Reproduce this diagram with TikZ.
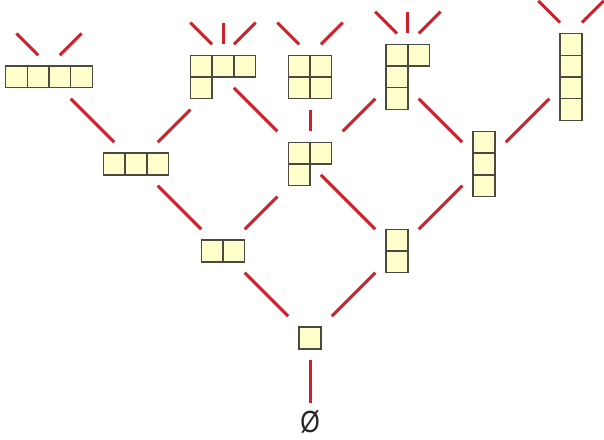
\documentclass[tikz,border=0pt]{standalone}
\usepackage{graphicx}
\usepackage{fontspec}
\newfontfamily\symfont{Liberation Sans}
\definecolor{cellfill}{HTML}{FFFFCC}
\definecolor{celldraw}{HTML}{4A4A40}
\definecolor{edgered}{HTML}{D0202A}
\def\u{0.3cm}
\tikzset{
  ybox/.style={rectangle, draw=none, inner sep=0pt, outer sep=0pt},
  cell/.style={fill=cellfill, draw=celldraw, line width=1pt},
  edge/.style={draw=edgered, line width=2.35pt},
  emptyset/.style={inner sep=0pt, text=black!85, font=\symfont\fontsize{24}{24}\selectfont}
}
\newcommand\yd[5]{%
  \node[ybox, minimum width={#3*\u}, minimum height={#4*\u}] (#1) at (#2) {};
  \foreach \c/\r in {#5} \draw[cell] ([shift={(2*\c,-2*\r)}]#1.north west) rectangle ++(2,-2);
}
\begin{document}
\begin{tikzpicture}[x=\u, y=\u]
\useasboundingbox (-28.506,-9.379) rectangle (27.034,31.080);
% rank 4
\yd{n4}{-24,24}{8}{2}{0/0,1/0,2/0,3/0}
\yd{n31}{-8,24}{6}{4}{0/0,1/0,2/0,0/1}
\yd{n22}{0,24}{4}{4}{0/0,1/0,0/1,1/1}
\yd{n211}{9,24}{4}{6}{0/0,1/0,0/1,0/2}
\yd{n1111}{24,24}{2}{8}{0/0,0/1,0/2,0/3}
% rank 3
\yd{n3}{-16,16}{6}{2}{0/0,1/0,2/0}
\yd{n21}{0,16}{4}{4}{0/0,1/0,0/1}
\yd{n111}{16,16}{2}{6}{0/0,0/1,0/2}
% rank 2
\yd{n2}{-8,8}{4}{2}{0/0,1/0}
\yd{n11}{8,8}{2}{4}{0/0,0/1}
% rank 1
\yd{n1}{0,0}{2}{2}{0/0}
% rank 0
\node[emptyset] (n0) at (0,-7.75) {\scalebox{0.82}[1]{Ø}};
% edges
\draw[edge] ([shift={(2,-2)}]n4.center) -- ([shift={(-2,2)}]n3.center);
\draw[edge] ([shift={(2,2)}]n3.center) -- ([shift={(-3,-3)}]n31.center);
\draw[edge] ([shift={(1,-1)}]n31.center) -- ([shift={(-3,3)}]n21.center);
\draw[edge] ([shift={(0,-3)}]n22.center) -- ([shift={(0,3)}]n21.center);
\draw[edge] ([shift={(3,3)}]n21.center) -- ([shift={(-3,-2)}]n211.center);
\draw[edge] ([shift={(1,-2)}]n211.center) -- ([shift={(-2,2)}]n111.center);
\draw[edge] ([shift={(2,2)}]n111.center) -- ([shift={(-2,-2)}]n1111.center);
\draw[edge] ([shift={(2,-2)}]n3.center) -- ([shift={(-2,2)}]n2.center);
\draw[edge] ([shift={(-3,-3)}]n21.center) -- ([shift={(2,2)}]n2.center);
\draw[edge] ([shift={(1,-1)}]n21.center) -- ([shift={(-2,2)}]n11.center);
\draw[edge] ([shift={(-2,-2)}]n111.center) -- ([shift={(2,2)}]n11.center);
\draw[edge] ([shift={(2,-2)}]n2.center) -- ([shift={(-2,2)}]n1.center);
\draw[edge] ([shift={(-2,-2)}]n11.center) -- ([shift={(2,2)}]n1.center);
\draw[edge] ([shift={(0,-2)}]n1.center) -- ([shift={(0,1.75)}]n0.center);
% free ends toward the next rank
\coordinate (t4a) at ([shift={(-3,4)}]n4.center);
\coordinate (t4b) at ([shift={(3,4)}]n4.center);
\coordinate (t31a) at ([shift={(-3,5)}]n31.center);
\coordinate (t31b) at ([shift={(0,5)}]n31.center);
\coordinate (t31c) at ([shift={(3,5)}]n31.center);
\coordinate (t22a) at ([shift={(-3,5)}]n22.center);
\coordinate (t22b) at ([shift={(3,5)}]n22.center);
\coordinate (t211a) at ([shift={(-3,6)}]n211.center);
\coordinate (t211b) at ([shift={(0,6)}]n211.center);
\coordinate (t211c) at ([shift={(3,6)}]n211.center);
\coordinate (t1111a) at ([shift={(-3,7)}]n1111.center);
\coordinate (t1111b) at ([shift={(3,7)}]n1111.center);
\draw[edge] ([shift={(-1,2)}]n4.center) -- (t4a);
\draw[edge] ([shift={(1,2)}]n4.center) -- (t4b);
\draw[edge] ([shift={(-1,3)}]n31.center) -- (t31a);
\draw[edge] ([shift={(0,3)}]n31.center) -- (t31b);
\draw[edge] ([shift={(1,3)}]n31.center) -- (t31c);
\draw[edge] ([shift={(-1,3)}]n22.center) -- (t22a);
\draw[edge] ([shift={(1,3)}]n22.center) -- (t22b);
\draw[edge] ([shift={(-1,4)}]n211.center) -- (t211a);
\draw[edge] ([shift={(0,4)}]n211.center) -- (t211b);
\draw[edge] ([shift={(1,4)}]n211.center) -- (t211c);
\draw[edge] ([shift={(-1,5)}]n1111.center) -- (t1111a);
\draw[edge] ([shift={(1,5)}]n1111.center) -- (t1111b);
\end{tikzpicture}
\end{document}
